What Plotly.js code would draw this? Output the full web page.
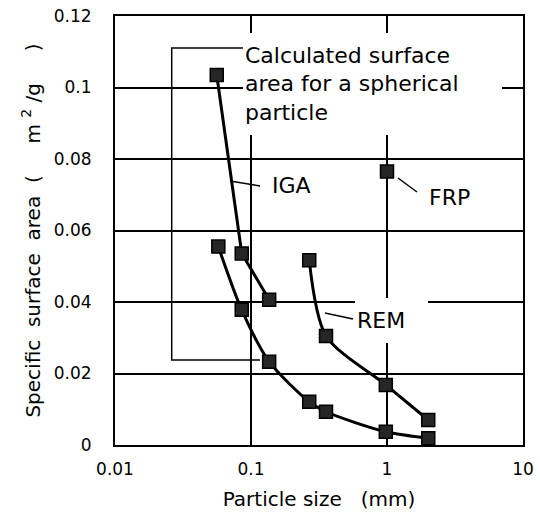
<!DOCTYPE html>
<html>
<head>
<meta charset="utf-8">
<script src="https://cdn.plot.ly/plotly-3.0.1.min.js"></script>
<style>html,body{margin:0;padding:0;background:#fff;}#chart{width:540px;height:525px;}</style>
</head>
<body>
<div id="chart"></div>
<script>
// Data
var calcSize = [0.0575, 0.0855, 0.136, 0.268, 0.356, 0.98, 2.01];
var calcArea = [0.0555, 0.0378, 0.0233, 0.0121, 0.0093, 0.0037, 0.0019];

var igaSize = [0.056, 0.0855, 0.136];
var igaArea = [0.1035, 0.0536, 0.0406];

var remSize = [0.268, 0.356, 0.98, 2.01];
var remArea = [0.0517, 0.0305, 0.0168, 0.0070];

var frpSize = [1.0];
var frpArea = [0.0765];

var xTickVals = [0.01, 0.1, 1, 10];
var xTickText = ['0.01', '0.1', '1', '10'];

var NB = '\u00a0';
function sp(n){ var s = ''; for (var i = 0; i < n; i++) s += NB; return s; }

var markerStyle = {symbol: 'square', size: 13, color: '#262626', line: {color: '#000', width: 1.5}};

var traces = [
  {x: calcSize, y: calcArea, mode: 'lines+markers', line: {color: '#000', width: 3, shape: 'spline', smoothing: 0.8}, marker: markerStyle, name: 'Calculated'},
  {x: igaSize, y: igaArea, mode: 'lines+markers', line: {color: '#000', width: 3}, marker: markerStyle, name: 'IGA'},
  {x: remSize, y: remArea, mode: 'lines+markers', line: {color: '#000', width: 3, shape: 'spline', smoothing: 0.8}, marker: markerStyle, name: 'REM'},
  {x: frpSize, y: frpArea, mode: 'markers', marker: markerStyle, name: 'FRP'}
];

function px(v){ return (v - 115) / 408; }
function py(v){ return (445 - v) / 429; }

var lineStyle = {color: '#000', width: 1.5};

var layout = {
  width: 540, height: 525,
  margin: {l: 115, r: 17, t: 16, b: 80},
  paper_bgcolor: '#fff', plot_bgcolor: '#fff',
  font: {family: 'DejaVu Sans', color: '#000', size: 17},
  showlegend: false,
  xaxis: {
    type: 'log', range: [-2, 1],
    tickvals: xTickVals, ticktext: xTickText,
    showgrid: true, gridcolor: '#000', gridwidth: 2,
    showline: true, linecolor: '#000', linewidth: 2, mirror: true,
    ticks: '', ticklabelstandoff: 8,
    tickfont: {size: 17},
    zeroline: false,
    title: {text: 'Particle size' + sp(3) + '(mm)', font: {size: 20}, standoff: 14}
  },
  yaxis: {
    range: [0, 0.12], dtick: 0.02, tick0: 0,
    showgrid: true, gridcolor: '#000', gridwidth: 2,
    showline: true, linecolor: '#000', linewidth: 2, mirror: true,
    ticks: '', ticklabelstandoff: 18,
    tickfont: {size: 17},
    zeroline: false,
    title: {text: 'Specific' + sp(2) + 'surface' + sp(2) + 'area' + sp(2) + '(' + sp(5) + 'm' + NB + '<sup>2</sup>' + NB + '/g' + sp(5) + ')', font: {size: 20}, standoff: 8}
  },
  shapes: [
    {type: 'path', xref: 'paper', yref: 'paper',
     path: 'M ' + px(243) + ',' + py(48) + ' L ' + px(171.7) + ',' + py(48) + ' L ' + px(171.7) + ',' + py(360) + ' L ' + px(260) + ',' + py(360),
     line: lineStyle},
    {type: 'line', xref: 'paper', yref: 'paper', x0: px(230), y0: py(181), x1: px(260), y1: py(186), line: lineStyle},
    {type: 'line', xref: 'paper', yref: 'paper', x0: px(398), y0: py(178), x1: px(417), y1: py(192), line: lineStyle},
    {type: 'line', xref: 'paper', yref: 'paper', x0: px(325), y0: py(313), x1: px(353), y1: py(319), line: lineStyle}
  ],
  annotations: [
    {xref: 'paper', yref: 'paper', x: px(243), y: py(33), xanchor: 'left', yanchor: 'top',
     text: 'Calculated surface<br>area for a spherical<br>particle', showarrow: false,
     align: 'left', valign: 'middle', width: 255, height: 98, borderpad: 2, borderwidth: 0,
     bgcolor: '#fff', font: {size: 22}},
    {xref: 'paper', yref: 'paper', x: px(355), y: py(298), xanchor: 'left', yanchor: 'top',
     text: 'REM', showarrow: false, align: 'left', valign: 'middle',
     width: 69, height: 41, borderpad: 2, borderwidth: 0, bgcolor: '#fff', font: {size: 22}},
    {xref: 'paper', yref: 'paper', x: px(291), y: py(185), xanchor: 'center', yanchor: 'middle',
     text: 'IGA', showarrow: false, font: {size: 22}},
    {xref: 'paper', yref: 'paper', x: px(449), y: py(197.5), xanchor: 'center', yanchor: 'middle',
     text: 'FRP', showarrow: false, font: {size: 22}}
  ]
};

Plotly.newPlot('chart', traces, layout, {displayModeBar: false, staticPlot: true});
</script>
</body>
</html>
